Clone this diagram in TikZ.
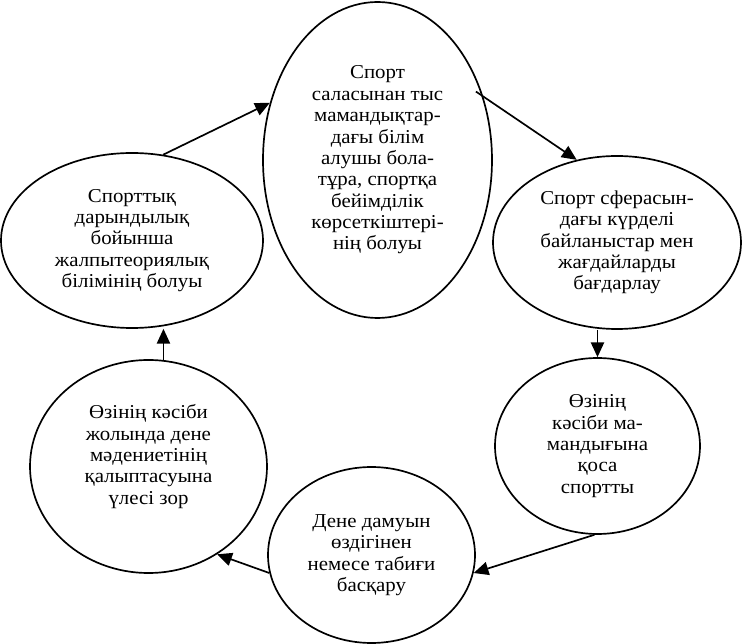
\documentclass[tikz,border=0pt]{standalone}
\usepackage{fontspec}
\setmainfont{Liberation Serif}[FakeStretch=1.06]
\usepackage{tikz}
\usetikzlibrary{arrows.meta, shapes.geometric, calc}

\begin{document}
\begin{tikzpicture}[
  bulle/.style={
    ellipse,
    draw=black,
    line width=1.2pt,
    inner xsep=-0.6cm,
    inner ysep=-0.3cm,
    align=center,
    font=\fontsize{14}{15.2}\selectfont
  },
  fleche/.style={
    -{Triangle[length=0.37cm, width=0.33cm]},
    line width=1.2pt,
    draw=black
  }
]
\useasboundingbox (0,0) rectangle (18.55,16.1);

% Ellipses
\node[bulle, minimum width=5.725cm, minimum height=7.9cm] (T) at (9.4375, 12.1)
  {Спорт\\ саласынан тыс\\ мамандықтар-\\ дағы білім\\ алушы бола-\\ тұра, спортқа\\ бейімділік\\ көрсеткіштері-\\ нің болуы};
\node[bulle, minimum width=6.2cm, minimum height=4.325cm] (R1) at (15.425, 10.0375)
  {Спорт сферасын-\\ дағы күрделі\\ байланыстар мен\\ жағдайларды\\ бағдарлау};
\node[bulle, minimum width=5.125cm, minimum height=4.4cm] (R2) at (14.9375, 4.95)
  {Өзінің\\ кәсіби ма-\\ мандығына\\ қоса\\ спортты};
\node[bulle, minimum width=5.175cm, minimum height=4.4cm] (B) at (9.2875, 2.225)
  {Дене дамуын\\ өздігінен\\ немесе табиғи\\ басқару};
\node[bulle, minimum width=5.925cm, minimum height=5.325cm, text depth=0.6cm] (L2) at (3.7125, 4.4375)
  {Өзінің кәсіби\\ жолында дене\\ мәдениетінің\\ қалыптасуына\\ үлесі зор};
\node[bulle, minimum width=6.55cm, minimum height=4.375cm] (L1) at (3.3, 10.0875)
  {Спорттық\\ дарындылық\\ бойынша\\ жалпытеориялық\\ білімінің болуы};

% Liaisons
\draw[fleche] (L1.70) -- (T.152);
\draw[fleche, shorten <=-0.22cm] (T.31) -- (R1.116);
\draw[fleche] (R2.north |- R1.south) -- (R2.north);
\draw[fleche] (R2.268) -- (B.-10);
\draw[fleche] (B.190) -- (L2.-52);
\draw[fleche] (L2.82) -- (L2.82 |- L1.south);

\end{tikzpicture}
\end{document}
